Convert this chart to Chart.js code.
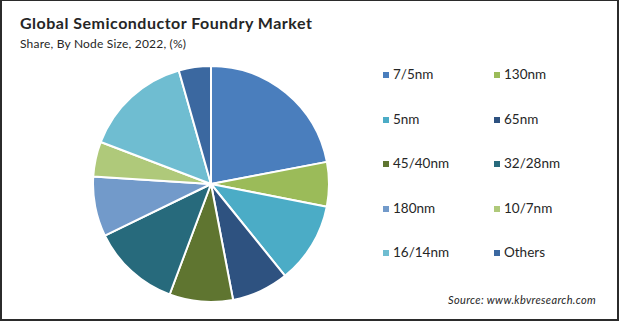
<!DOCTYPE html>
<html><head><meta charset="utf-8">
<script src="https://cdn.jsdelivr.net/npm/chart.js@4/dist/chart.umd.min.js"></script>
<style>
html,body{margin:0;padding:0;background:#fff;}
#frame{position:absolute;left:0;top:0;width:615px;height:318px;border:2px solid #2b2b2b;border-top-width:1px;box-sizing:content-box;background:#fff;}
#title{position:absolute;left:20px;top:13px;font:bold 16px Lato,"Open Sans",sans-serif;color:#262626;letter-spacing:0.5px;}
#sub{position:absolute;left:20px;top:36px;font:12px Lato,"Open Sans",sans-serif;color:#262626;letter-spacing:0.2px;}
#pie{position:absolute;left:92px;top:65px;width:238px;height:238px;}
#legend{position:absolute;left:0;top:0;}
.li{position:absolute;font:13.5px Lato,"Open Sans",sans-serif;color:#262626;white-space:nowrap;line-height:16px;}
.sw{display:inline-block;width:6px;height:6px;margin-right:4px;vertical-align:1px;}
#src{position:absolute;left:448px;top:293px;font:italic 11px Lato,"Open Sans",sans-serif;color:#262626;letter-spacing:0.35px;}
</style></head>
<body>
<div id="frame"></div>
<div id="title">Global Semiconductor Foundry Market</div>
<div id="sub">Share, By Node Size, 2022, (%)</div>
<div id="pie"><canvas id="c" width="238" height="238"></canvas></div>
<div id="legend"></div>
<div id="src">Source: www.kbvresearch.com</div>
<script>
const categories = ["7/5nm","130nm","5nm","65nm","45/40nm","32/28nm","180nm","10/7nm","16/14nm","Others"];
const shares = [22.0, 6.1, 11.1, 7.8, 8.7, 12.1, 8.2, 4.8, 14.8, 4.4];
const colors = ["#4a7ebd","#9bbb59","#4bacc6","#2e5280","#5f7530","#276a7c","#729aca","#afc97a","#6fbdd1","#3b68a0"];

new Chart(document.getElementById('c'), {
  type: 'pie',
  data: { labels: categories, datasets: [{ data: shares, backgroundColor: colors, borderColor: '#ffffff', borderWidth: 2 }] },
  options: {
    responsive: false, animation: false, devicePixelRatio: 1,
    layout: { padding: 0 },
    plugins: { legend: { display: false }, tooltip: { enabled: false } }
  }
});

const leg = document.getElementById('legend');
categories.forEach((name, i) => {
  const col = i % 2, row = Math.floor(i / 2);
  const d = document.createElement('div');
  d.className = 'li';
  d.style.left = (col ? 494 : 383) + 'px';
  d.style.top = (66 + row * 44.5) + 'px';
  d.innerHTML = '<span class="sw" style="background:' + colors[i] + '"></span>' + name;
  leg.appendChild(d);
});
</script>
</body></html>
